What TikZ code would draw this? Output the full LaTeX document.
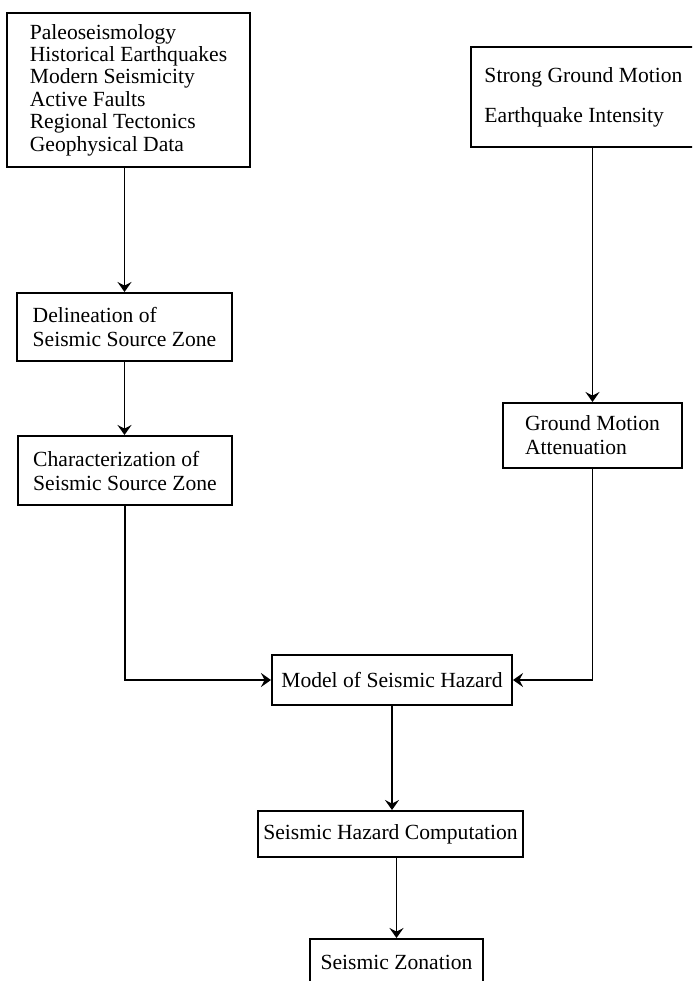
\documentclass[tikz,border=0pt]{standalone}
\usepackage{fontspec}
\setmainfont{Liberation Serif}
\usetikzlibrary{arrows.meta}
\begin{document}
\begin{tikzpicture}[x=0.5pt,y=-0.5pt,
    box/.style={draw,line width=1pt,align=left,inner sep=0pt,
      font=\fontsize{10.8}{12}\selectfont},
    arr/.style={line width=0.8pt,-{Stealth[length=5pt,width=7pt,inset=1.8pt]}}]
    \clip (0,0) rectangle (692,981);
    \node[box,minimum width=121.5pt,minimum height=77pt,
      font=\fontsize{10.8}{11.2}\selectfont] (src) at (128.5,90)
      {Paleoseismology\\Historical Earthquakes\\Modern Seismicity\\Active Faults\\Regional Tectonics\\Geophysical Data};
    \node[box,minimum width=112.5pt,minimum height=50pt,
      font=\fontsize{10.8}{20}\selectfont] (sgm) at (583.5,97)
      {Strong Ground Motion\\Earthquake Intensity};
    \node[box,minimum width=107.5pt,minimum height=34pt] (del)  at (124.5,327)   {Delineation of\\Seismic Source Zone};
    \node[box,minimum width=107pt,minimum height=34.5pt] (char) at (125,470.5)   {Characterization of\\Seismic Source Zone};
    \node[box,minimum width=89.5pt,minimum height=32.5pt] (gma) at (592.5,435.5) {Ground Motion\\Attenuation};
    \node[box,minimum width=120pt,minimum height=25pt]   (model) at (392,680)    {Model of Seismic Hazard};
    \node[box,minimum width=132.5pt,minimum height=23pt] (comp)  at (390.5,834)  {Seismic Hazard Computation};
    \node[box,minimum width=86.5pt,minimum height=23pt]  (zon)   at (396.5,962)  {Seismic Zonation};
    \draw[arr] (src.south -| del.north) -- (del.north);
    \draw[arr] (del.south) -- (del.south |- char.north);
    \draw[arr] (char.south) |- (model.west);
    \draw[arr] (sgm.south -| gma.north) -- (gma.north);
    \draw[arr] (gma.south) |- (model.east);
    \draw[arr] (model.south) -- (model.south |- comp.north);
    \draw[arr] (comp.south -| zon.north) -- (zon.north);
  \end{tikzpicture}
\end{document}
